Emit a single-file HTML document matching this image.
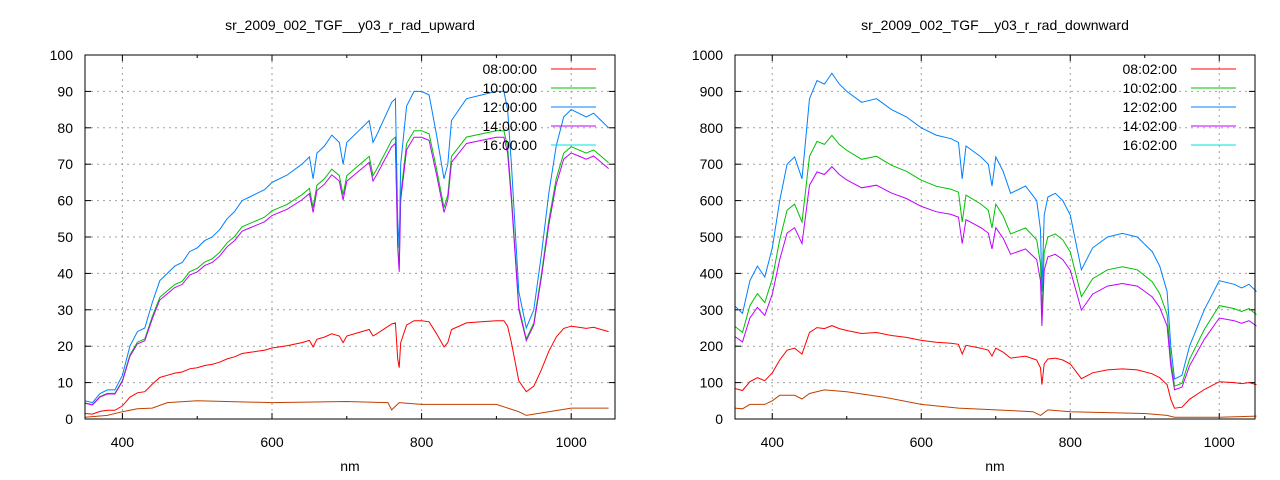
<!DOCTYPE html>
<html><head><meta charset="utf-8"><style>
body{margin:0;background:#fff;}
svg{display:block;font-family:"Liberation Sans",sans-serif;}
</style></head><body>
<svg id="s" width="1280" height="480" xmlns="http://www.w3.org/2000/svg"></svg>
<script>
const S=document.getElementById('s');let h='';
function plot(o){
 const {x0,x1,y0,y1,ymax,ystep,sx,title,labels,blue,gs,ms,rs,brown}=o;
 const X=n=>x0+(n-350)*sx, Y=v=>y1-(v/ymax)*(y1-y0);
 // grid
 for(let v=0;v<=ymax;v+=ystep){const y=Y(v);
  if(v>0&&v<ymax)h+=`<line x1="${x0}" y1="${y}" x2="${x1}" y2="${y}" stroke="#a0a0a0" stroke-dasharray="2,4"/>`;
  h+=`<line x1="${x0}" y1="${y}" x2="${x0+6}" y2="${y}" stroke="#000"/><line x1="${x1}" y1="${y}" x2="${x1-6}" y2="${y}" stroke="#000"/>`;
  h+=`<text x="${x0-12}" y="${y+5}" font-size="14" text-anchor="end">${v}</text>`;}
 for(const n of [400,600,800,1000]){const x=X(n);
  h+=`<line x1="${x}" y1="${y0}" x2="${x}" y2="${y1}" stroke="#a0a0a0" stroke-dasharray="2,4"/>`;
  h+=`<line x1="${x}" y1="${y1}" x2="${x}" y2="${y1-6}" stroke="#000"/><line x1="${x}" y1="${y0}" x2="${x}" y2="${y0+6}" stroke="#000"/>`;
  h+=`<text x="${x}" y="${y1+28}" font-size="14" text-anchor="middle">${n}</text>`;}
 for(const n of [500,700,900]){const x=X(n);
  h+=`<line x1="${x}" y1="${y1}" x2="${x}" y2="${y1-3}" stroke="#000"/><line x1="${x}" y1="${y0}" x2="${x}" y2="${y0+3}" stroke="#000"/>`;}
 h+=`<text x="${(x0+x1)/2}" y="30" font-size="14" text-anchor="middle">${title}</text>`;
 h+=`<text x="${(x0+x1)/2}" y="471" font-size="14" text-anchor="middle">nm</text>`;
 const line=(pts,f,c)=>{h+=`<polyline fill="none" stroke="${c}" stroke-width="1" points="${pts.map(p=>X(p[0]).toFixed(1)+','+Y(typeof f==='function'?f(p):p[1]).toFixed(1)).join(' ')}"/>`;};
 line(brown,null,'#c04000');
 line(blue,p=>p[1]*rs,'#ff0000');
 line(blue,p=>p[1]*gs,'#00c000');
 line(blue,p=>p[1]*ms,'#c000ff');
 line(blue,null,'#0080ff');
 const cols=['#ff0000','#00c000','#0080ff','#c000ff','#00e0e0'];
 labels.forEach((l,i)=>{const y=69+i*19;
  h+=`<rect x="${x1-138}" y="${y-10}" width="0" height="0"/><text x="${x1-78}" y="${y+5}" font-size="14" text-anchor="end">${l}</text>`;
  h+=`<line x1="${x1-64}" y1="${y}" x2="${x1-19}" y2="${y}" stroke="${cols[i]}"/>`;});
 h+=`<rect x="${x0}" y="${y0}" width="${x1-x0}" height="${y1-y0}" fill="none" stroke="#000"/>`;
}
const bl=[[350,5],[360,4.5],[370,7],[380,8],[390,8],[400,12],[410,20],[420,24],[430,25],[440,32],[450,38],[460,40],[470,42],[480,43],[490,46],[500,47],[510,49],[520,50],[530,52],[540,55],[550,57],[560,60],[570,61],[580,62],[590,63],[600,65],[620,67],[640,70],[650,72],[655,66],[660,73],[670,75],[680,78],[690,76],[695,70],[700,76],[720,80],[730,82],[735,76],[740,78],[760,87],[765,88],[768,55],[770,47],[772,70],[780,86],[790,90],[800,90],[810,89],[820,78],[830,66],[835,70],[840,82],[860,88],[880,89],[900,90],[910,90],[915,85],[920,70],[930,35],[940,25],[950,30],[960,45],[970,62],[980,75],[990,83],[1000,85],[1010,84],[1020,83],[1030,84],[1040,82],[1050,80]];
const bb=[[350,0.5],[380,1],[400,2],[420,2.8],[440,3],[460,4.5],[500,5],[600,4.5],[700,4.8],[755,4.5],[760,2.5],[770,4.5],[800,4],[900,4],[930,2],[940,1],[970,2],[1000,3],[1050,3]];
plot({x0:85,x1:615,y0:55,y1:419,ymax:100,ystep:10,sx:0.748,title:'sr_2009_002_TGF__y03_r_rad_upward',labels:['08:00:00','10:00:00','12:00:00','14:00:00','16:00:00'],blue:bl,gs:0.88,ms:0.86,rs:0.3,brown:bb});
const br=[[350,310],[360,290],[370,380],[380,420],[390,390],[400,470],[410,600],[420,700],[430,720],[440,660],[450,880],[460,930],[470,920],[480,950],[490,920],[500,900],[520,870],[540,880],[560,850],[580,830],[600,800],[620,780],[640,770],[650,760],[655,660],[660,750],[680,720],[690,700],[695,640],[700,720],[710,680],[720,620],[740,640],[755,600],[760,520],[762,350],[765,560],[770,610],[780,620],[790,600],[800,560],[810,460],[815,410],[830,470],[850,500],[870,510],[890,500],[910,460],[920,420],[930,350],[935,200],[940,110],[950,120],[960,200],[980,300],[1000,380],[1020,370],[1030,360],[1040,370],[1050,350]];
const rb=[[350,30],[360,28],[370,40],[390,40],[400,50],[410,65],[430,65],[440,55],[450,70],[470,80],[500,75],[550,60],[600,40],[650,30],[700,25],[750,20],[760,10],[770,25],[800,20],[900,15],[930,10],[940,5],[1000,5],[1050,8]];
plot({x0:735,x1:1255,y0:55,y1:419,ymax:1000,ystep:100,sx:0.745,title:'sr_2009_002_TGF__y03_r_rad_downward',labels:['08:02:00','10:02:00','12:02:00','14:02:00','16:02:00'],blue:br,gs:0.82,ms:0.73,rs:0.27,brown:rb});
S.innerHTML=h;
</script>
</body></html>
